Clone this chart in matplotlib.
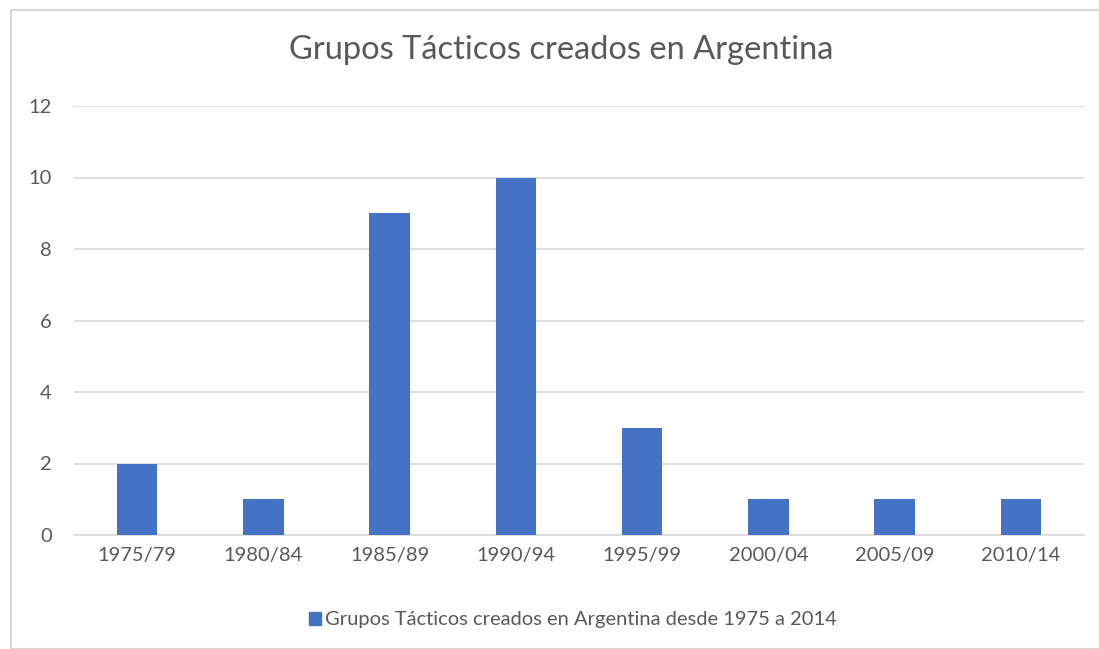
import matplotlib
matplotlib.use("Agg")
import matplotlib.pyplot as plt
from matplotlib.patches import Rectangle, Patch

categories = ["1975/79", "1980/84", "1985/89", "1990/94", "1995/99", "2000/04", "2005/09", "2010/14"]
values = [2, 1, 9, 10, 3, 1, 1, 1]
series_name = "Grupos Tácticos creados en Argentina desde 1975 a 2014"
title = "Grupos Tácticos creados en Argentina"

plt.rcParams['font.family'] = ['Lato', 'DejaVu Sans']
bar_color = "#4472C4"
text_color = "#595959"

fig = plt.figure(figsize=(10.99, 6.49), dpi=100)
fig.patch.set_facecolor("white")
fig.add_artist(Rectangle((11/1099, 0), 1.2, 1 - 10/649, transform=fig.transFigure,
                         fill=False, edgecolor="#D9D9D9", linewidth=1.5))

ax = fig.add_axes([74/1099, 1 - 535/649, (1084 - 74)/1099, (535 - 106)/649])
x = list(range(len(categories)))
ax.bar(x, values, width=0.32, color=bar_color, zorder=3)
ax.set_xlim(-0.5, len(categories) - 0.5)
ax.set_ylim(0, 12)
ax.set_yticks(range(0, 13, 2))
ax.set_xticks(x)
ax.set_xticklabels(categories)
ax.tick_params(axis='both', length=0, labelsize=14.5, colors=text_color)
ax.tick_params(axis='x', pad=9)
ax.tick_params(axis='y', pad=16)
ax.grid(axis='y', color="#D9D9D9", linewidth=1.2, zorder=0)
for s in ['top', 'right', 'left']:
    ax.spines[s].set_visible(False)
ax.spines['bottom'].set_color("#D9D9D9")
ax.spines['bottom'].set_linewidth(1.2)

fig.text(561/1099, 1 - 50/649, title, ha='center', va='center', fontsize=23.5, color=text_color)

handle = Patch(facecolor=bar_color, edgecolor=bar_color)
fig.legend([handle], [series_name], loc='center', bbox_to_anchor=(573/1099, 1 - 620/649),
           frameon=False, fontsize=14.5, labelcolor=text_color, handlelength=0.6, handleheight=0.6,
           handletextpad=0.2)

fig.savefig("out.png", dpi=100, facecolor="white")
